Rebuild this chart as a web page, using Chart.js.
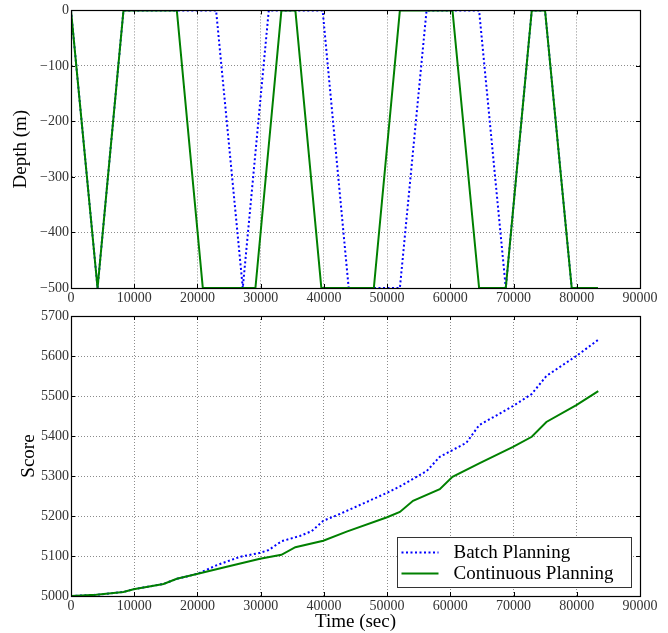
<!DOCTYPE html>
<html>
<head>
<meta charset="utf-8">
<script src="https://cdn.jsdelivr.net/npm/chart.js@4/dist/chart.umd.min.js"></script>
<style>
  body { margin: 0; background: #fff; }
  #depthBox { position: absolute; left: 0; top: 0; width: 668px; height: 305px; }
  #scoreBox { position: absolute; left: 0; top: 305px; width: 668px; height: 328px; }
</style>
</head>
<body>
<div id="depthBox"><canvas id="depth" width="668" height="305"></canvas></div>
<div id="scoreBox"><canvas id="score" width="668" height="328"></canvas></div>
<script>
// depth profiles (time in sec, depth in m)
var batchDepthT = [0, 4200, 8300, 22950, 27170, 31280, 39800, 43920, 52020, 56240, 64550, 68770, 72880, 74980, 79200, 83350];
var batchDepth  = [0, -500, 0, 0, -500, 0, 0, -500, -500, 0, 0, -500, 0, 0, -500, -500];
var contDepthT  = [0, 4200, 8300, 16740, 20850, 29170, 33280, 35490, 39600, 47900, 52020, 60340, 64550, 68770, 72880, 74980, 79200, 83350];
var contDepth   = [0, -500, 0, 0, -500, -500, 0, 0, -500, -500, 0, 0, -500, -500, 0, 0, -500, -500];

// accumulated score
var batchScoreT = [0, 4000, 8300, 9900, 14630, 16740, 19900, 20400, 23050, 26740, 29900, 31280, 33320, 36200, 38050, 39900, 42500, 50000, 52020, 56240, 58330, 62540, 64550, 69920, 72880, 75190, 79930, 83350];
var batchScore  = [5000, 5003, 5010, 5017, 5030, 5043, 5055, 5058, 5077, 5098, 5108, 5115, 5137, 5150, 5162, 5188, 5205, 5258, 5274, 5312, 5348, 5383, 5427, 5475, 5505, 5550, 5600, 5640];
var contScoreT  = [0, 4000, 8300, 9900, 14630, 16740, 19900, 24630, 29900, 33280, 35490, 39900, 43600, 50000, 52020, 54100, 58330, 60340, 64650, 69920, 72880, 75190, 79930, 83400];
var contScore   = [5000, 5003, 5010, 5017, 5030, 5043, 5055, 5073, 5093, 5103, 5122, 5138, 5161, 5197, 5210, 5238, 5267, 5298, 5332, 5373, 5398, 5435, 5477, 5512];

var timeTicks  = [0, 10000, 20000, 30000, 40000, 50000, 60000, 70000, 80000, 90000];
var depthTicks = [-500, -400, -300, -200, -100, 0];
var scoreTicks = [5000, 5100, 5200, 5300, 5400, 5500, 5600, 5700];

var seriesNames = ['Batch Planning', 'Continuous Planning'];
var BLUE = '#0000ff', GREEN = '#008000';
var SERIF = '"Liberation Serif", "Times New Roman", serif';

function pts(xs, ys) {
    return xs.map(function(x, i) { return {x: x, y: ys[i]}; });
}
function fmt(v) {
    return v < 0 ? '\u2212' + Math.abs(v) : String(v);
}

// box around the axes plus inward tick marks on all sides
var framePlugin = {
    id: 'frame',
    afterDatasetsDraw: function(chart) {
        var a = chart.chartArea, ctx = chart.ctx;
        var xs = chart.scales.x, ys = chart.scales.y;
        ctx.save();
        ctx.strokeStyle = '#000';
        ctx.lineWidth = 1;
        ctx.beginPath();
        xs.ticks.forEach(function(t) {
            var px = Math.round(xs.getPixelForValue(t.value)) + 0.5;
            ctx.moveTo(px, a.top); ctx.lineTo(px, a.top + 4);
            ctx.moveTo(px, a.bottom); ctx.lineTo(px, a.bottom - 4);
        });
        ys.ticks.forEach(function(t) {
            var py = Math.round(ys.getPixelForValue(t.value)) + 0.5;
            ctx.moveTo(a.left, py); ctx.lineTo(a.left + 4, py);
            ctx.moveTo(a.right, py); ctx.lineTo(a.right - 4, py);
        });
        ctx.stroke();
        ctx.lineWidth = 1.2;
        ctx.strokeRect(Math.round(a.left) + 0.5, Math.round(a.top) + 0.5,
                       Math.round(a.right - a.left), Math.round(a.bottom - a.top));
        ctx.restore();
    }
};

// legend in the lower right corner of the score axes
var cornerLegend = {
    id: 'cornerLegend',
    afterDraw: function(chart) {
        var a = chart.chartArea, ctx = chart.ctx;
        var w = 234, h = 50;
        var x0 = Math.round(a.right - 9 - w) + 0.5, y0 = Math.round(a.bottom - 9 - h) + 0.5;
        ctx.save();
        ctx.fillStyle = '#fff';
        ctx.fillRect(x0, y0, w, h);
        ctx.strokeStyle = '#333';
        ctx.lineWidth = 1;
        ctx.strokeRect(x0, y0, w, h);
        ctx.font = '19px ' + SERIF;
        ctx.textBaseline = 'middle';
        ctx.fillStyle = '#000';
        chart.data.datasets.forEach(function(ds, i) {
            var y = y0 + 15 + i * 21;
            ctx.beginPath();
            ctx.strokeStyle = ds.borderColor;
            ctx.lineWidth = ds.borderWidth;
            ctx.setLineDash(ds.borderDash || []);
            ctx.moveTo(x0 + 4, y);
            ctx.lineTo(x0 + 41, y);
            ctx.stroke();
            ctx.setLineDash([]);
            ctx.fillText(ds.label, x0 + 56, y + 1);
        });
        ctx.restore();
    }
};

function xAxis(height, withTitle) {
    return {
        type: 'linear',
        min: 0,
        max: 90000,
        afterBuildTicks: function(s) { s.ticks = timeTicks.map(function(v) { return {value: v}; }); },
        afterFit: function(s) { s.height = height; },
        ticks: {
            autoSkip: false, maxRotation: 0, padding: 2, color: '#333',
            font: {family: SERIF, size: 14},
            callback: function(v) { return fmt(v); }
        },
        grid: {color: '#8c8c8c', lineWidth: 1, drawTicks: false},
        border: {display: true, color: '#000', width: 1, dash: [1, 2]},
        title: {
            display: withTitle, text: 'Time (sec)', color: '#000',
            font: {family: SERIF, size: 19, lineHeight: 1.2},
            padding: {top: 0, bottom: 0}
        }
    };
}

function yAxis(min, max, tickVals, label, titlePad) {
    return {
        min: min,
        max: max,
        afterBuildTicks: function(s) { s.ticks = tickVals.map(function(v) { return {value: v}; }); },
        afterFit: function(s) { s.width = 71; },
        ticks: {
            padding: 2, color: '#333',
            font: {family: SERIF, size: 14},
            callback: function(v) { return fmt(v); }
        },
        grid: {color: '#8c8c8c', lineWidth: 1, drawTicks: false},
        border: {display: true, color: '#000', width: 1, dash: [1, 2]},
        title: {
            display: true, text: label, color: '#000',
            font: {family: SERIF, size: 19, lineHeight: 1.2},
            padding: {top: titlePad, bottom: 0}
        }
    };
}

function lineSet(name, xs, ys, color, dotted, order) {
    return {
        label: name,
        data: pts(xs, ys),
        borderColor: color,
        backgroundColor: color,
        borderWidth: 2,
        borderDash: dotted ? [2, 2.5] : [],
        pointRadius: 0,
        tension: 0,
        fill: false,
        order: order
    };
}

var common = {
    responsive: false,
    animation: false,
    devicePixelRatio: 1,
    plugins: {legend: {display: false}, tooltip: {enabled: false}}
};

new Chart(document.getElementById('depth'), {
    type: 'line',
    data: {
        datasets: [
            lineSet(seriesNames[0], batchDepthT, batchDepth, BLUE, true, 1),
            lineSet(seriesNames[1], contDepthT, contDepth, GREEN, false, 0)
        ]
    },
    options: Object.assign({}, common, {
        layout: {padding: {top: 10, right: 28, left: 0, bottom: 0}},
        scales: {
            x: xAxis(17, false),
            y: yAxis(-500, 0, depthTicks, 'Depth (m)', 10)
        }
    }),
    plugins: [framePlugin]
});

new Chart(document.getElementById('score'), {
    type: 'line',
    data: {
        datasets: [
            lineSet(seriesNames[0], batchScoreT, batchScore, BLUE, true, 1),
            lineSet(seriesNames[1], contScoreT, contScore, GREEN, false, 0)
        ]
    },
    options: Object.assign({}, common, {
        layout: {padding: {top: 11, right: 28, left: 0, bottom: 0}},
        scales: {
            x: xAxis(37, true),
            y: yAxis(5000, 5700, scoreTicks, 'Score', 18)
        }
    }),
    plugins: [framePlugin, cornerLegend]
});
</script>
</body>
</html>
